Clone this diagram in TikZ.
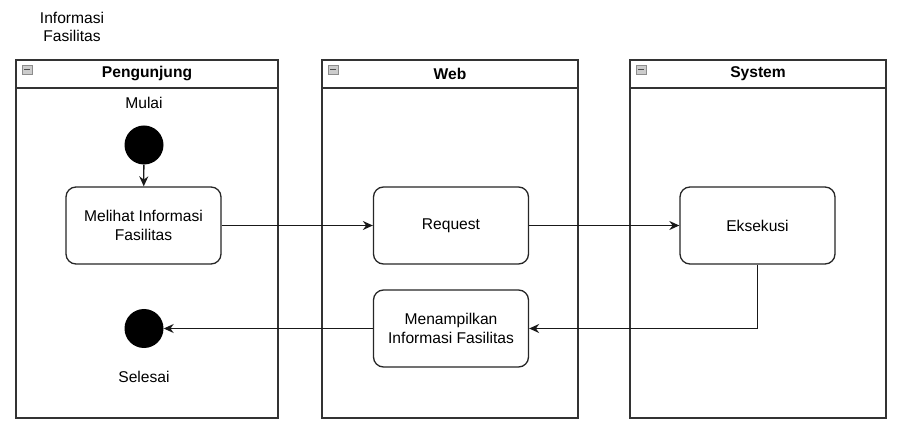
\documentclass[tikz,border=0pt]{standalone}
\usepackage{fontspec}
\setmainfont{Liberation Sans}
\usetikzlibrary{arrows.meta,positioning}

\tikzset{
  lane/.style={draw=black!80,line width=1.5pt},
  act/.style={draw=black!85,line width=1.3pt,rounded corners=10pt,fill=white,
    minimum width=155pt,minimum height=77pt,align=center,inner sep=2pt},
  dot/.style={circle,fill=black,minimum size=39pt,inner sep=0pt},
  flow/.style={draw=black!90,line width=1.3pt,-{Stealth[length=10pt,width=9pt]}},
  icon/.style={draw=gray!90,fill=gray!40,line width=0.8pt}
}

\begin{document}
\begin{tikzpicture}[x=1pt,y=-1pt,font=\fontsize{15.6}{18.7}\selectfont]
\useasboundingbox (0,0) rectangle (905,430);

\node[align=center] (judul) at (72,27) {Informasi\\Fasilitas};

% lanes
\draw[lane] (16,60) rectangle (278,418);
\draw[lane] (16,88) -- (278,88);
\draw[lane] (322,60) rectangle (578,418);
\draw[lane] (322,88) -- (578,88);
\draw[lane] (630,60) rectangle (886,418);
\draw[lane] (630,88) -- (886,88);

\draw[icon] (22,65) rectangle (32,74);
\draw[gray!60!black,line width=1pt] (24,69.5) -- (30,69.5);
\draw[icon] (328,65) rectangle (338,74);
\draw[gray!60!black,line width=1pt] (330,69.5) -- (336,69.5);
\draw[icon] (636,65) rectangle (646,74);
\draw[gray!60!black,line width=1pt] (638,69.5) -- (644,69.5);

\node[font=\fontsize{15.6}{18.7}\selectfont\bfseries] (hPengunjung) at (147,74) {Pengunjung};
\node[font=\fontsize{15.6}{18.7}\selectfont\bfseries] (hWeb) at (450,74) {Web};
\node[font=\fontsize{15.6}{18.7}\selectfont\bfseries] (hSystem) at (758,74) {System};

% aktivitas
\node (lMulai) at (144,103) {Mulai};
\node[dot] (mulai) at (144,145) {};
\node[act] (melihat) at (143.5,225.5) {Melihat Informasi\\Fasilitas};
\node[act] (request) at (451,225.5) {Request};
\node[act] (eksekusi) at (757.5,225.5) {Eksekusi};
\node[act] (tampil) at (451,328.5) {Menampilkan\\Informasi Fasilitas};
\node[dot] (selesai) at (144,328.5) {};
\node (lSelesai) at (144,377) {Selesai};

\draw[flow] (mulai) -- (melihat);
\draw[flow] (melihat) -- (request);
\draw[flow] (request) -- (eksekusi);
\draw[flow] (eksekusi.south) |- (tampil.east);
\draw[flow] (tampil) -- (selesai);

\end{tikzpicture}
\end{document}
